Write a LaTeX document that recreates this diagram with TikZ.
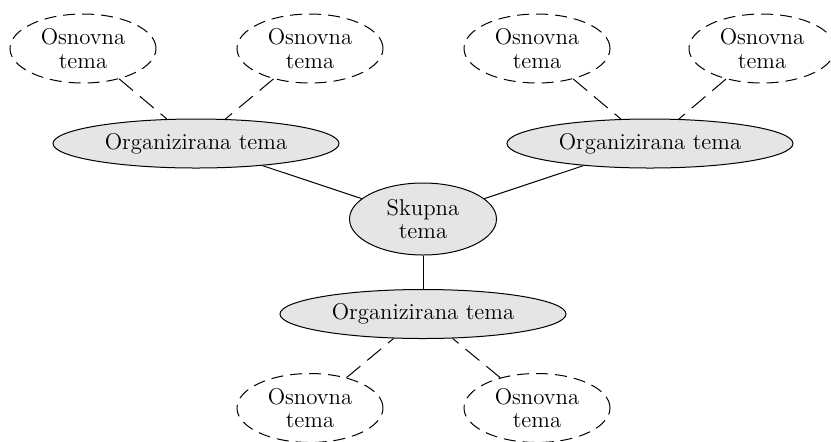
\documentclass[tikz,border=0pt]{standalone}
\usepackage{tikz}
\usetikzlibrary{shapes.geometric}

\begin{document}
\begin{tikzpicture}[x=0.5pt,y=-0.5pt,
    every node/.style={align=center,inner sep=0pt,font=\fontsize{11.4}{11.7}\selectfont},
    osnovna/.style={ellipse,draw,dash pattern=on 6pt off 3.5pt,line width=0.5pt,minimum width=73pt,minimum height=34.5pt},
    organizirana/.style={ellipse,draw,fill=gray!20,line width=0.5pt,minimum width=143pt,minimum height=24.5pt},
    skupnabox/.style={ellipse,draw,fill=gray!20,line width=0.5pt,minimum width=73.5pt,minimum height=36pt},
    dashlink/.style={draw,line width=0.5pt,dash pattern=on 9pt off 4.5pt},
    solidlink/.style={draw,line width=0.5pt}]
      \useasboundingbox (0,0) rectangle (831,441);
      \node[skupnabox] (skupna) at (423,219) {Skupna\\tema};
      \node[organizirana] (orgL) at (196,143.5) {Organizirana tema};
      \node[organizirana] (orgR) at (650,143.5) {Organizirana tema};
      \node[organizirana] (orgB) at (423,314) {Organizirana tema};
      \node[osnovna] (osnLa) at (83,48.5) {Osnovna\\tema};
      \node[osnovna] (osnLb) at (310,48.5) {Osnovna\\tema};
      \node[osnovna] (osnRa) at (537,48.5) {Osnovna\\tema};
      \node[osnovna] (osnRb) at (762,48.5) {Osnovna\\tema};
      \node[osnovna] (osnBa) at (310,408) {Osnovna\\tema};
      \node[osnovna] (osnBb) at (537,408) {Osnovna\\tema};
      \foreach \from/\to in {osnLa/orgL,osnLb/orgL,osnRa/orgR,osnRb/orgR,osnBa/orgB,osnBb/orgB} { \path[dashlink] (\from) -- (\to); }
      \foreach \from in {orgL,orgR,orgB} { \path[solidlink] (\from) -- (skupna); }
   \end{tikzpicture}
\end{document}
